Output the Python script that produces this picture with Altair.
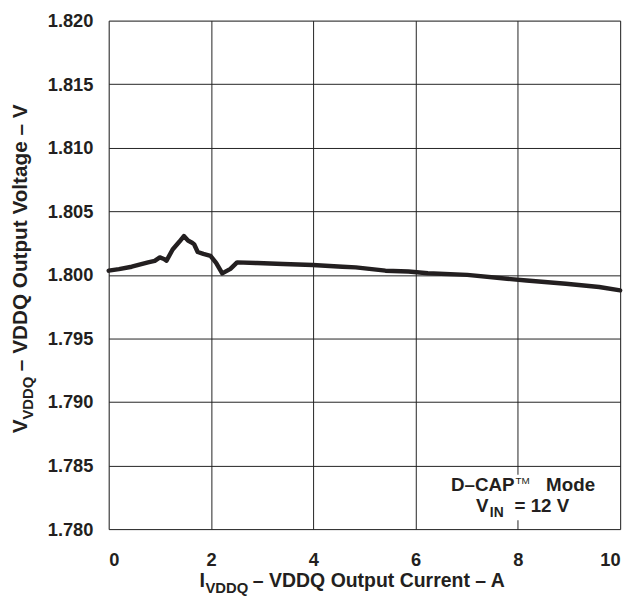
import altair as alt
import pandas as pd

current_a = [0.00, 0.20, 0.45, 0.77, 0.90, 1.00, 1.08, 1.13, 1.25, 1.38, 1.47, 1.55,
             1.62, 1.67, 1.74, 1.85, 1.99, 2.10, 2.22, 2.38, 2.51, 2.90, 3.41, 3.99,
             4.57, 4.83, 5.41, 5.86, 6.24, 7.01, 7.79, 8.17, 8.94, 9.59, 10.00]
voltage_v = [1.80033, 1.80045, 1.80064, 1.80098, 1.80110, 1.80137, 1.80125, 1.80111,
             1.80200, 1.80260, 1.80305, 1.80270, 1.80255, 1.80241, 1.80180, 1.80165,
             1.80150, 1.80095, 1.80012, 1.80047, 1.80098, 1.80093, 1.80085, 1.80078,
             1.80064, 1.80059, 1.80033, 1.80026, 1.80012, 1.80000, 1.79969, 1.79956,
             1.79930, 1.79904, 1.79878]

x_ticks = [0, 2, 4, 6, 8, 10]
y_ticks = [1.780, 1.785, 1.790, 1.795, 1.800, 1.805, 1.810, 1.815, 1.820]

FONT = "Liberation Sans"
df = pd.DataFrame({"I": current_a, "V": voltage_v})

base = alt.Chart(df)

line = base.mark_line(color="#231f20", strokeWidth=4.5, strokeJoin="round",
                      strokeCap="round").encode(
    x=alt.X("I:Q", scale=alt.Scale(domain=[0, 10], nice=False),
            axis=alt.Axis(values=x_ticks, title=None, format="d", grid=True,
                          gridColor="#222", gridWidth=1, tickSize=0, domain=False,
                          labelFont=FONT, labelFontSize=18.5, labelFontWeight="bold",
                          labelColor="#231f20", labelPadding=22)),
    y=alt.Y("V:Q", scale=alt.Scale(domain=[1.780, 1.820], nice=False, zero=False),
            axis=alt.Axis(values=y_ticks, title=None, format=".3f", grid=True,
                          gridColor="#222", gridWidth=1, tickSize=0, domain=False,
                          labelFont=FONT, labelFontSize=18.5, labelFontWeight="bold",
                          labelColor="#231f20", labelPadding=16)),
)

one = pd.DataFrame({"a": [0]})


def txt(text, x, y, size, align="left", angle=0, weight="bold"):
    kw = dict(text=text, font=FONT, fontSize=size, fontWeight=weight,
              color="#231f20", align=align, baseline="alphabetic")
    if angle:
        kw["angle"] = angle
    return alt.Chart(one).mark_text(**kw).encode(x=alt.value(x), y=alt.value(y))


box = alt.Chart(one).mark_rect(color="white").encode(
    x=alt.value(336), x2=alt.value(501), y=alt.value(460), y2=alt.value(506))

annot = [
    txt("D\u2013CAP", 411, 476, 19, align="right"),
    txt("TM", 412, 469, 10, align="left", weight="normal"),
    txt("Mode", 443, 476, 19, align="left"),
    txt("V", 372, 498, 19, align="left"),
    txt("IN", 386, 503, 14, align="left"),
    txt("= 12 V", 411, 498, 19, align="left"),
]

xtitle = [
    txt("I", 92, 574, 20, align="left"),
    txt("VDDQ", 98, 580, 15, align="left"),
    txt("\u2013 VDDQ Output Current \u2013 A", 146, 574, 19.7, align="left"),
]

ytitle = [
    txt("V", -83, 418, 21, align="left", angle=270),
    txt("VDDQ", -77, 404, 15, align="left", angle=270),
    txt("\u2013 VDDQ Output Voltage \u2013 V", -83, 355, 21, align="left", angle=270),
]

chart = alt.layer(line, box, *annot, *xtitle, *ytitle).properties(
    width=518, height=515,
    autosize=alt.AutoSizeParams(type="none"),
    padding={"left": 102, "top": 9, "right": 12, "bottom": 66},
).configure_view(stroke="#231f20", strokeWidth=1.2).configure(background="white")

chart.save("out.html", embed_options={"renderer": "svg", "actions": False})
